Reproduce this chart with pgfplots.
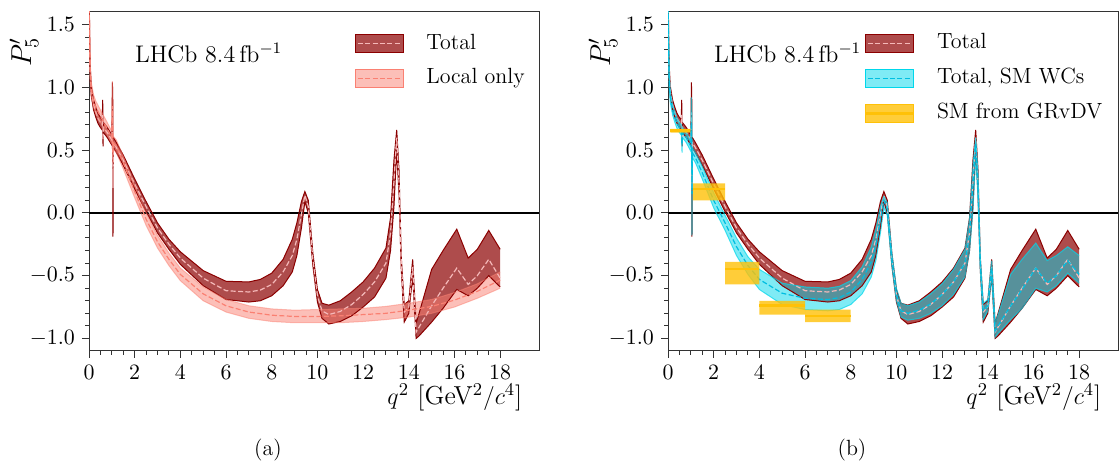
\documentclass[border=0pt]{standalone}
\usepackage{pgfplots}
\pgfplotsset{compat=1.18}
\usepackage{pgfplotstable}
\usepgfplotslibrary{fillbetween}
\definecolor{dred}{RGB}{139,0,0}
\definecolor{salm}{RGB}{250,128,114}
\definecolor{cyn}{RGB}{0,215,235}
\definecolor{cynline}{RGB}{0,190,225}
\definecolor{amb}{RGB}{255,193,7}
\definecolor{pinkc}{RGB}{245,185,185}

\pgfplotstableread{
x lo mid hi
0.00 1.55 1.75 1.95
0.02 1.36 1.46 1.56
0.05 1.06 1.12 1.18
0.10 0.93 0.97 1.01
0.20 0.82 0.86 0.90
0.30 0.76 0.80 0.84
0.40 0.71 0.75 0.79
0.50 0.68 0.72 0.76
0.58 0.66 0.70 0.74
0.60 0.68 0.78 0.90
0.615 0.53 0.58 0.66
0.63 0.64 0.68 0.72
0.80 0.60 0.64 0.68
1.00 0.54 0.58 0.62
1.025 0.55 0.80 1.04
1.04 0.40 0.65 0.90
1.05 -0.19 0.20 0.45
1.065 0.52 0.56 0.60
1.20 0.48 0.52 0.56
1.50 0.38 0.42 0.46
2.00 0.19 0.23 0.27
2.50 0.01 0.05 0.09
3.00 -0.16 -0.12 -0.08
3.50 -0.29 -0.25 -0.21
4.00 -0.41 -0.36 -0.31
5.00 -0.58 -0.52 -0.46
6.00 -0.69 -0.62 -0.545
7.00 -0.71 -0.63 -0.55
7.50 -0.70 -0.615 -0.53
8.00 -0.66 -0.57 -0.48
8.50 -0.58 -0.47 -0.37
8.90 -0.47 -0.34 -0.21
9.10 -0.34 -0.21 -0.08
9.30 -0.12 -0.01 0.09
9.45 0.09 0.14 0.17
9.60 0.00 0.05 0.10
9.80 -0.42 -0.37 -0.32
10.00 -0.71 -0.66 -0.61
10.20 -0.84 -0.78 -0.72
10.50 -0.885 -0.81 -0.735
11.00 -0.865 -0.785 -0.70
11.50 -0.82 -0.73 -0.63
12.00 -0.75 -0.65 -0.55
12.50 -0.67 -0.55 -0.44
13.00 -0.52 -0.40 -0.28
13.20 -0.30 -0.16 -0.04
13.35 0.05 0.25 0.42
13.47 0.50 0.60 0.66
13.57 0.15 0.25 0.35
13.67 -0.45 -0.40 -0.35
13.80 -0.87 -0.79 -0.73
14.00 -0.80 -0.75 -0.70
14.17 -0.50 -0.43 -0.37
14.32 -1.00 -0.95 -0.88
14.45 -0.98 -0.91 -0.80
15.00 -0.87 -0.74 -0.45
15.50 -0.76 -0.60 -0.30
16.10 -0.61 -0.44 -0.13
16.60 -0.66 -0.57 -0.36
17.00 -0.60 -0.50 -0.29
17.50 -0.50 -0.37 -0.14
18.00 -0.59 -0.52 -0.29
}\totaltab

\pgfplotstableread{
x lo mid hi
0.00 1.55 1.75 1.95
0.02 1.38 1.48 1.58
0.05 1.08 1.14 1.20
0.10 0.94 0.99 1.04
0.20 0.84 0.89 0.94
0.30 0.79 0.84 0.89
0.50 0.72 0.77 0.82
0.80 0.62 0.67 0.72
1.00 0.55 0.60 0.65
1.025 0.60 0.85 1.05
1.04 0.45 0.65 0.90
1.05 0.40 0.48 0.58
1.065 0.51 0.56 0.61
1.20 0.48 0.53 0.58
1.50 0.35 0.40 0.45
2.00 0.12 0.17 0.22
2.50 -0.10 -0.05 0.00
3.00 -0.28 -0.23 -0.18
3.50 -0.42 -0.37 -0.32
4.00 -0.54 -0.49 -0.44
5.00 -0.70 -0.645 -0.59
6.00 -0.79 -0.74 -0.69
7.00 -0.84 -0.79 -0.74
8.00 -0.865 -0.815 -0.765
9.00 -0.875 -0.825 -0.775
10.00 -0.875 -0.825 -0.77
11.00 -0.875 -0.82 -0.765
12.00 -0.865 -0.81 -0.76
13.00 -0.85 -0.80 -0.745
14.00 -0.83 -0.775 -0.72
15.00 -0.80 -0.745 -0.69
16.00 -0.75 -0.695 -0.635
17.00 -0.68 -0.625 -0.565
18.00 -0.60 -0.535 -0.47
}\localtab

\pgfplotstableread{
x lo mid hi
0.00 1.50 1.70 1.90
0.02 1.31 1.41 1.51
0.05 1.01 1.07 1.13
0.10 0.88 0.92 0.96
0.20 0.78 0.82 0.86
0.30 0.72 0.76 0.80
0.40 0.67 0.71 0.75
0.50 0.64 0.68 0.72
0.58 0.62 0.66 0.70
0.60 0.55 0.62 0.70
0.615 0.48 0.55 0.62
0.63 0.60 0.64 0.68
0.80 0.56 0.60 0.64
1.00 0.49 0.53 0.57
1.025 0.52 0.72 0.92
1.04 0.30 0.55 0.80
1.05 -0.18 0.15 0.40
1.065 0.44 0.48 0.52
1.20 0.40 0.44 0.48
1.50 0.27 0.32 0.37
2.00 0.04 0.10 0.16
2.50 -0.14 -0.08 -0.02
3.00 -0.34 -0.27 -0.20
3.50 -0.49 -0.42 -0.35
4.00 -0.61 -0.53 -0.45
5.00 -0.73 -0.64 -0.56
6.00 -0.77 -0.68 -0.59
7.00 -0.78 -0.69 -0.60
7.50 -0.77 -0.675 -0.585
8.00 -0.73 -0.63 -0.54
8.50 -0.645 -0.53 -0.43
8.90 -0.51 -0.39 -0.27
9.10 -0.38 -0.25 -0.13
9.30 -0.16 -0.05 0.05
9.45 0.04 0.10 0.13
9.60 -0.02 0.03 0.08
9.80 -0.42 -0.37 -0.32
10.00 -0.70 -0.65 -0.60
10.20 -0.83 -0.78 -0.72
10.50 -0.855 -0.80 -0.74
11.00 -0.84 -0.775 -0.71
11.50 -0.80 -0.725 -0.645
12.00 -0.74 -0.65 -0.565
12.50 -0.65 -0.55 -0.45
13.00 -0.51 -0.40 -0.29
13.20 -0.30 -0.17 -0.05
13.35 0.02 0.22 0.38
13.47 0.45 0.55 0.60
13.57 0.12 0.22 0.32
13.67 -0.45 -0.40 -0.35
13.80 -0.85 -0.78 -0.72
14.00 -0.78 -0.74 -0.69
14.17 -0.50 -0.44 -0.38
14.32 -0.99 -0.94 -0.88
14.45 -0.96 -0.90 -0.81
15.00 -0.85 -0.74 -0.49
15.50 -0.76 -0.61 -0.37
16.10 -0.60 -0.44 -0.24
16.60 -0.63 -0.56 -0.38
17.00 -0.58 -0.50 -0.34
17.50 -0.48 -0.38 -0.27
18.00 -0.56 -0.49 -0.34
}\smtab

\pgfplotsset{
  panel/.style={
    scale only axis, width=225pt, height=169.5pt,
    xmin=0, xmax=19.7, ymin=-1.1, ymax=1.6,
    clip mode=individual,
    xtick={0,2,...,18}, ytick={-1,-0.5,0,0.5,1,1.5},
    minor x tick num=3, minor y tick num=4,
    tick align=outside, tick pos=left,
    major tick length=3.5pt, minor tick length=2pt,
    yticklabel style={/pgf/number format/.cd, fixed, fixed zerofill, precision=1},
    tick label style={font=\fontsize{11}{13}\selectfont},
    axis line style={black!80, line width=0.5pt},
    every tick/.style={black!80, line width=0.5pt},
    legend cell align=left,
    legend style={draw=none, fill=none, font=\fontsize{11}{13}\selectfont,
      row sep=3pt, inner sep=0pt,
      nodes={inner sep=2pt, text height=8pt, text depth=2.5pt},
      /tikz/every odd column/.append style={column sep=9pt}},
  },
  totimg/.style={legend image code/.code={
    \fill[dred, fill opacity=0.7] (0pt,-4.5pt) rectangle (24pt,4.5pt);
    \draw[dred, line width=0.5pt] (0pt,-4.5pt) rectangle (24pt,4.5pt);
    \draw[pinkc, dashed, line width=0.6pt, dash pattern=on 2.5pt off 1.2pt] (1pt,0pt) -- (23pt,0pt);}},
  locimg/.style={legend image code/.code={
    \fill[salm, fill opacity=0.5] (0pt,-4.5pt) rectangle (24pt,4.5pt);
    \draw[salm, draw opacity=0.5, line width=0.5pt] (0pt,-4.5pt) rectangle (24pt,4.5pt);
    \draw[salm, line width=0.6pt, dash pattern=on 2.5pt off 1.2pt] (1pt,0pt) -- (23pt,0pt);}},
  smimg/.style={legend image code/.code={
    \fill[cyn, fill opacity=0.5] (0pt,-4.5pt) rectangle (24pt,4.5pt);
    \draw[cyn, draw opacity=0.7, line width=0.5pt] (0pt,-4.5pt) rectangle (24pt,4.5pt);
    \draw[cynline, line width=0.6pt, dash pattern=on 2.5pt off 1.2pt] (1pt,0pt) -- (23pt,0pt);}},
  grimg/.style={legend image code/.code={
    \fill[amb, fill opacity=0.8] (0pt,-4.5pt) rectangle (24pt,4.5pt);
    \draw[amb, line width=1.2pt] (0pt,0pt) -- (24pt,0pt);}},
}

\begin{document}
\begin{tikzpicture}

% ---------------- panel (a)
\begin{axis}[panel, at={(44.5pt,56.5pt)}, anchor=south west,
  legend style={at={(axis description cs:0.591,0.951)}, anchor=north west}]
\addplot[forget plot, black, line width=0.7pt] coordinates {(0,0) (19.7,0)};
% Total
\addplot[forget plot, name path=tahi, dred, line width=0.5pt] table[x=x,y=hi]{\totaltab};
\addplot[forget plot, name path=talo, dred, line width=0.5pt] table[x=x,y=lo]{\totaltab};
\addplot[forget plot, dred, fill opacity=0.7, draw=none] fill between[of=tahi and talo];
\addplot[forget plot, pinkc, line width=0.6pt, dash pattern=on 2.5pt off 1.2pt] table[x=x,y=mid]{\totaltab};
% Local only
\addplot[forget plot, name path=lahi, salm, draw opacity=0.5, line width=0.5pt] table[x=x,y=hi]{\localtab};
\addplot[forget plot, name path=lalo, salm, draw opacity=0.5, line width=0.5pt] table[x=x,y=lo]{\localtab};
\addplot[forget plot, salm, fill opacity=0.5, draw=none] fill between[of=lahi and lalo];
\addplot[forget plot, salm, line width=0.6pt, dash pattern=on 2.5pt off 1.2pt] table[x=x,y=mid]{\localtab};
\node[anchor=west, inner sep=0pt, font=\fontsize{12}{14}\selectfont] at (axis cs:2.0,1.27) {LHCb 8.4\,fb$^{-1}$};
\node[inner sep=0pt, font=\fontsize{13}{15}\selectfont] at (axis description cs:0.813,-0.137) {$q^2$ [GeV$^2/c^4$]};
\addlegendimage{totimg}
\addlegendentry{Total}
\addlegendimage{locimg}
\addlegendentry{Local only}
\end{axis}

% ---------------- panel (b)
\begin{axis}[panel, at={(334pt,56.5pt)}, anchor=south west,
  legend style={at={(axis description cs:0.436,0.951)}, anchor=north west}]
\addplot[forget plot, black, line width=0.7pt] coordinates {(0,0) (19.7,0)};
% Total
\addplot[forget plot, name path=tbhi, dred, line width=0.5pt] table[x=x,y=hi]{\totaltab};
\addplot[forget plot, name path=tblo, dred, line width=0.5pt] table[x=x,y=lo]{\totaltab};
\addplot[forget plot, dred, fill opacity=0.7, draw=none] fill between[of=tbhi and tblo];
\addplot[forget plot, pinkc, line width=0.6pt, dash pattern=on 2.5pt off 1.2pt] table[x=x,y=mid]{\totaltab};
% Total, SM WCs
\addplot[forget plot, name path=sbhi, cyn, draw opacity=0.7, line width=0.5pt] table[x=x,y=hi]{\smtab};
\addplot[forget plot, name path=sblo, cyn, draw opacity=0.7, line width=0.5pt] table[x=x,y=lo]{\smtab};
\addplot[forget plot, cyn, fill opacity=0.5, draw=none] fill between[of=sbhi and sblo];
\addplot[forget plot, cynline, line width=0.6pt, dash pattern=on 2.5pt off 1.2pt] table[x=x,y=mid]{\smtab};
% SM from GRvDV
\addplot[forget plot, fill=amb, fill opacity=0.8, draw=none] coordinates {(0.1,0.64) (0.98,0.64) (0.98,0.67) (0.1,0.67) (0.1,0.64)};
\addplot[forget plot, amb, line width=1.2pt] coordinates {(0.1,0.655) (0.98,0.655)};
\addplot[forget plot, fill=amb, fill opacity=0.8, draw=none] coordinates {(1.1,0.10) (2.5,0.10) (2.5,0.235) (1.1,0.235) (1.1,0.10)};
\addplot[forget plot, amb, line width=1.2pt] coordinates {(1.1,0.19) (2.5,0.19)};
\addplot[forget plot, fill=amb, fill opacity=0.8, draw=none] coordinates {(2.5,-0.57) (4,-0.57) (4,-0.39) (2.5,-0.39) (2.5,-0.57)};
\addplot[forget plot, amb, line width=1.2pt] coordinates {(2.5,-0.447) (4,-0.447)};
\addplot[forget plot, fill=amb, fill opacity=0.8, draw=none] coordinates {(4,-0.81) (6,-0.81) (6,-0.70) (4,-0.70) (4,-0.81)};
\addplot[forget plot, amb, line width=1.2pt] coordinates {(4,-0.738) (6,-0.738)};
\addplot[forget plot, fill=amb, fill opacity=0.8, draw=none] coordinates {(6,-0.87) (8,-0.87) (8,-0.77) (6,-0.77) (6,-0.87)};
\addplot[forget plot, amb, line width=1.2pt] coordinates {(6,-0.82) (8,-0.82)};
\node[anchor=west, inner sep=0pt, font=\fontsize{12}{14}\selectfont] at (axis cs:2.0,1.27) {LHCb 8.4\,fb$^{-1}$};
\node[inner sep=0pt, font=\fontsize{13}{15}\selectfont] at (axis description cs:0.813,-0.137) {$q^2$ [GeV$^2/c^4$]};
\addlegendimage{totimg}
\addlegendentry{Total}
\addlegendimage{smimg}
\addlegendentry{Total, SM WCs}
\addlegendimage{grimg}
\addlegendentry{SM from GRvDV}
\end{axis}

\node[rotate=90, inner sep=0pt, font=\fontsize{14}{16}\selectfont] at (12pt,206pt) {$P_5'$};
\node[rotate=90, inner sep=0pt, font=\fontsize{14}{16}\selectfont] at (301.5pt,206pt) {$P_5'$};
\node[font=\fontsize{11}{13}\selectfont] at (134pt,7pt) {(a)};
\node[font=\fontsize{11}{13}\selectfont] at (426pt,7pt) {(b)};
\pgfresetboundingbox
\useasboundingbox (0,0) rectangle (560pt,232pt);
\end{tikzpicture}
\end{document}
